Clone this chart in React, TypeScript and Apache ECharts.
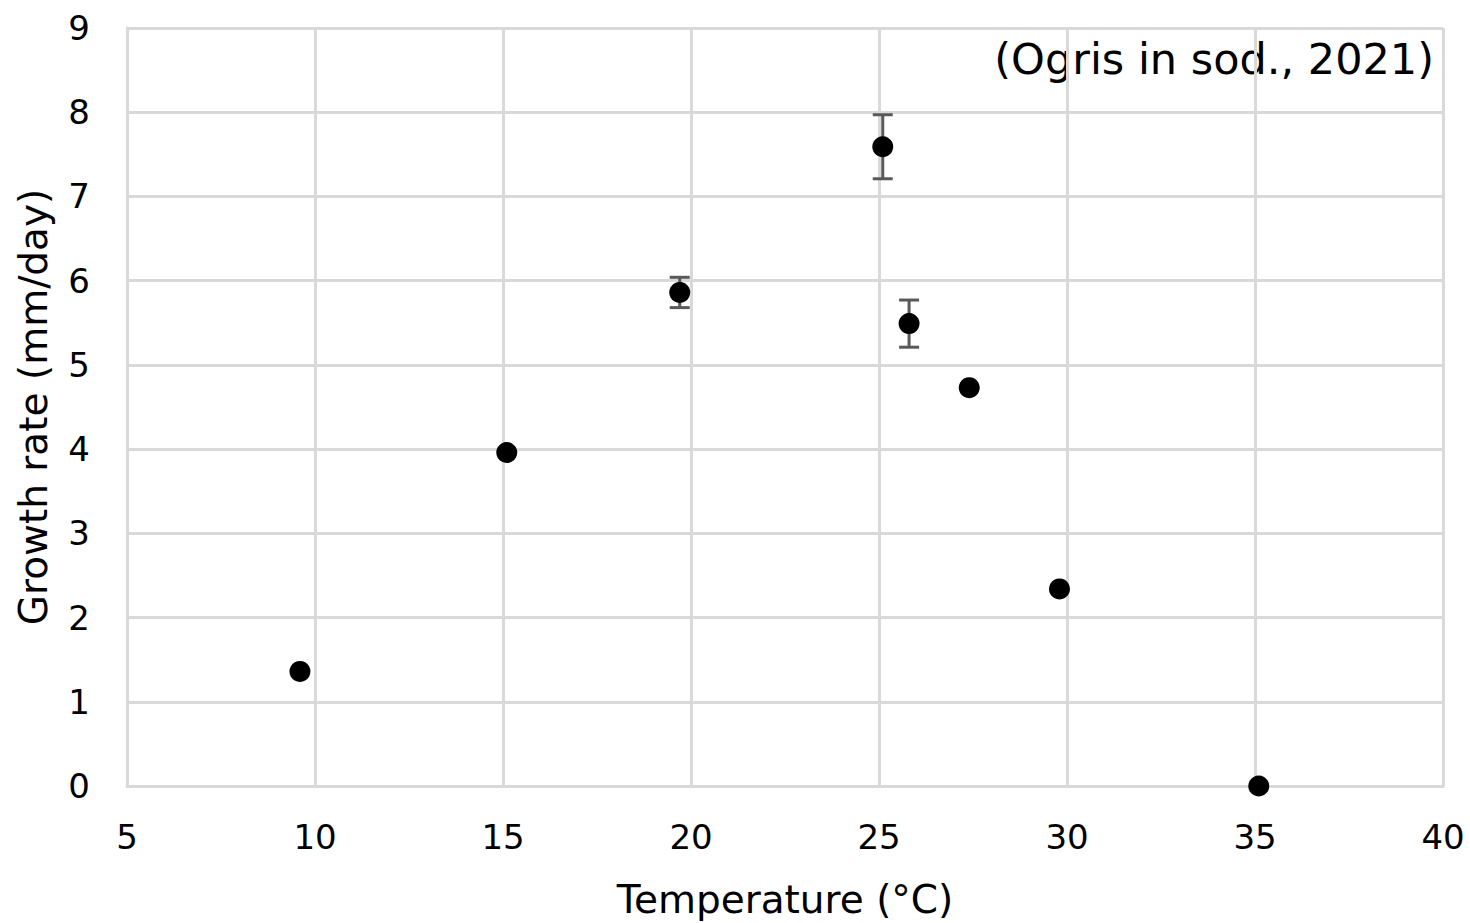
import React, { useEffect, useRef } from "react";
import * as echarts from "echarts";

const temperatures = [9.6, 15.1, 19.7, 25.1, 25.8, 27.4, 29.8, 35.1];
const growthRates = [1.36, 3.96, 5.86, 7.59, 5.49, 4.73, 2.34, 0.0];
const errors = [0, 0, 0.18, 0.38, 0.28, 0, 0, 0];
const xTicks = [5, 10, 15, 20, 25, 30, 35, 40];
const yTicks = [0, 1, 2, 3, 4, 5, 6, 7, 8, 9];
const sourceLabel = "(Ogris in sod., 2021)";

const FONT = "DejaVu Sans";
const GRID = "#d9d9d9";

export default function App() {
  const ref = useRef<HTMLDivElement>(null);
  useEffect(() => {
    if (!ref.current) return;
    const chart = echarts.init(ref.current, undefined, { renderer: "svg" });
    const points = temperatures.map((t, i) => [t, growthRates[i]]);
    const errData = temperatures
      .map((t, i) => [t, growthRates[i] - errors[i], growthRates[i] + errors[i], errors[i]])
      .filter((d) => d[3] > 0);
    chart.setOption({
      animation: false,
      backgroundColor: "#ffffff",
      grid: {
        left: 127,
        right: 27,
        top: 28,
        bottom: 137,
        containLabel: false,
        outerBoundsMode: "none",
      },
      xAxis: {
        type: "value",
        min: xTicks[0],
        max: xTicks[xTicks.length - 1],
        interval: 5,
        name: "Temperature (°C)",
        nameLocation: "middle",
        nameGap: 94,
        nameTextStyle: { fontFamily: FONT, fontSize: 39, color: "#000" },
        axisLine: { show: true, lineStyle: { color: GRID, width: 3 } },
        axisTick: { show: false },
        axisLabel: { fontFamily: FONT, fontSize: 34, color: "#000", margin: 34 },
        splitLine: { show: true, lineStyle: { color: GRID, width: 3 } },
      },
      yAxis: {
        type: "value",
        min: yTicks[0],
        max: yTicks[yTicks.length - 1],
        interval: 1,
        name: "Growth rate (mm/day)",
        nameLocation: "middle",
        nameGap: 74,
        nameTextStyle: { fontFamily: FONT, fontSize: 39, color: "#000" },
        axisLine: { show: true, lineStyle: { color: GRID, width: 3 } },
        axisTick: { show: false },
        axisLabel: { fontFamily: FONT, fontSize: 34, color: "#000", margin: 37 },
        splitLine: { show: true, lineStyle: { color: GRID, width: 3 } },
      },
      graphic: [
        {
          type: "text",
          right: 36,
          top: 37,
          style: { text: sourceLabel, fontFamily: FONT, fontSize: 43, fill: "#000" },
        },
      ],
      series: [
        {
          type: "custom",
          z: 3,
          data: errData,
          renderItem: (params: any, api: any) => {
            const x = api.value(0);
            const lo = api.coord([x, api.value(1)]);
            const hi = api.coord([x, api.value(2)]);
            const cap = 10;
            const style = { stroke: "#595959", lineWidth: 3 };
            return {
              type: "group",
              children: [
                { type: "line", shape: { x1: lo[0], y1: lo[1], x2: hi[0], y2: hi[1] }, style },
                { type: "line", shape: { x1: lo[0] - cap, y1: lo[1], x2: lo[0] + cap, y2: lo[1] }, style },
                { type: "line", shape: { x1: hi[0] - cap, y1: hi[1], x2: hi[0] + cap, y2: hi[1] }, style },
              ],
            };
          },
        },
        {
          type: "scatter",
          z: 4,
          data: points,
          symbol: "circle",
          symbolSize: 21,
          itemStyle: { color: "#000000", opacity: 1 },
        },
      ],
    });
    return () => chart.dispose();
  }, []);
  return (
    <div
      ref={ref}
      style={{ position: "fixed", left: 0, top: 0, width: 1470, height: 923 }}
    />
  );
}
